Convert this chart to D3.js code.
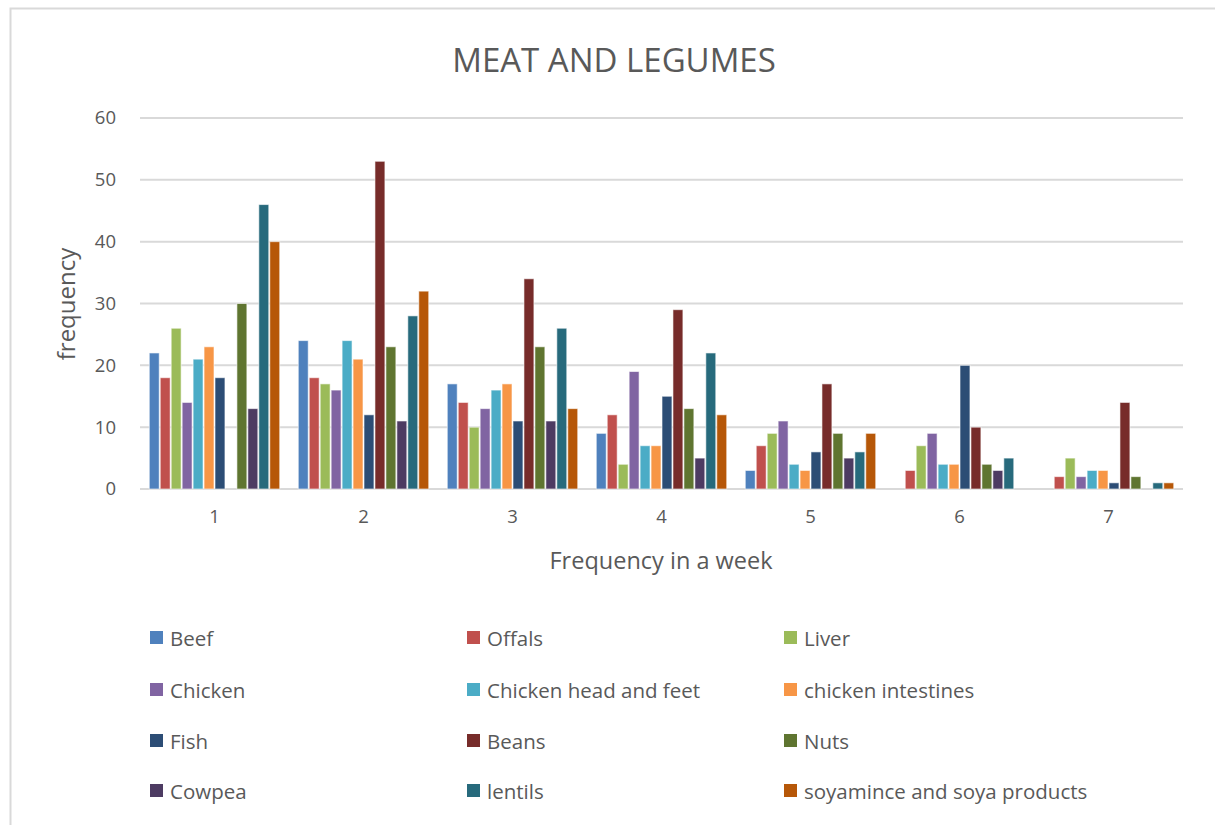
<!DOCTYPE html>
<html>
<head>
<meta charset="utf-8">
<script src="https://cdn.jsdelivr.net/npm/d3@7"></script>
<style>
  html, body { margin: 0; padding: 0; background: #fff; }
  svg { display: block; font-family: "Open Sans", "Liberation Sans", sans-serif; }
</style>
</head>
<body>
<svg id="chart" width="1215" height="825"></svg>
<script>
const categories = ["1", "2", "3", "4", "5", "6", "7"];
const seriesNames = ["Beef", "Offals", "Liver", "Chicken", "Chicken head and feet", "chicken intestines",
  "Fish", "Beans", "Nuts", "Cowpea", "lentils", "soyamince and soya products"];
const seriesColors = ["#4F81BD", "#C0504D", "#9BBB59", "#8064A2", "#4BACC6", "#F79646",
  "#2C4D75", "#772C2A", "#5F7530", "#4D3B62", "#276A7C", "#B65708"];
const beef     = [22, 24, 17, 9, 3, 0, 0];
const offals   = [18, 18, 14, 12, 7, 3, 2];
const liver    = [26, 17, 10, 4, 9, 7, 5];
const chicken  = [14, 16, 13, 19, 11, 9, 2];
const headFeet = [21, 24, 16, 7, 4, 4, 3];
const intest   = [23, 21, 17, 7, 3, 4, 3];
const fish     = [18, 12, 11, 15, 6, 20, 1];
const beans    = [0, 53, 34, 29, 17, 10, 14];
const nuts     = [30, 23, 23, 13, 9, 4, 2];
const cowpea   = [13, 11, 11, 5, 5, 3, 0];
const lentils  = [46, 28, 26, 22, 6, 5, 1];
const soya     = [40, 32, 13, 12, 9, 0, 1];
const yTicks = [0, 10, 20, 30, 40, 50, 60];

const seriesValues = [beef, offals, liver, chicken, headFeet, intest, fish, beans, nuts, cowpea, lentils, soya];

const svg = d3.select("#chart");
const textColor = "#595959";

// outer border
svg.append("rect").attr("x", 10.5).attr("y", 8.5).attr("width", 1215).attr("height", 830)
  .attr("fill", "none").attr("stroke", "#d9d9d9").attr("stroke-width", 2);

const plot = { left: 140, right: 1183, top: 118, bottom: 489 };

const x0 = d3.scaleBand().domain(categories).range([plot.left, plot.right]).paddingInner(0).paddingOuter(0);
const x1 = d3.scaleBand().domain(seriesNames).range([0, x0.bandwidth()]).paddingInner(0).paddingOuter(0.8);
const y = d3.scaleLinear().domain([0, 60]).range([plot.bottom, plot.top]);

// gridlines
svg.append("g").selectAll("line").data(yTicks).join("line")
  .attr("x1", plot.left).attr("x2", plot.right)
  .attr("y1", d => y(d)).attr("y2", d => y(d))
  .attr("stroke", "#d9d9d9").attr("stroke-width", 2);

// y labels
svg.append("g").selectAll("text").data(yTicks).join("text")
  .attr("x", 116).attr("y", d => y(d)).attr("dy", "0.35em")
  .attr("text-anchor", "end").attr("font-size", 18.5).attr("fill", textColor)
  .text(d => d);

// bars
const groups = svg.append("g").selectAll("g").data(categories).join("g")
  .attr("transform", d => `translate(${x0(d)},0)`);
groups.selectAll("rect").data((c, ci) => seriesNames.map((s, si) => ({ s, si, v: seriesValues[si][ci] })))
  .join("rect")
  .filter(d => d.v > 0)
  .attr("x", d => x1(d.s) + 0.5)
  .attr("width", x1.bandwidth() - 1)
  .attr("y", d => y(d.v))
  .attr("height", d => y(0) - y(d.v))
  .attr("fill", d => seriesColors[d.si])
  .attr("stroke", "#ffffff").attr("stroke-opacity", 0.6).attr("stroke-width", 1);

// x labels
svg.append("g").selectAll("text").data(categories).join("text")
  .attr("x", d => x0(d) + x0.bandwidth() / 2).attr("y", 523)
  .attr("text-anchor", "middle").attr("font-size", 18.5).attr("fill", textColor)
  .text(d => d);

// title
svg.append("text").attr("x", 614).attr("y", 72).attr("text-anchor", "middle")
  .attr("font-size", 33).attr("fill", textColor).text("MEAT AND LEGUMES");

// axis titles
svg.append("text").attr("x", 661).attr("y", 569).attr("text-anchor", "middle")
  .attr("font-size", 23.5).attr("fill", textColor).text("Frequency in a week");
svg.append("text").attr("transform", "translate(75,304) rotate(-90)").attr("text-anchor", "middle")
  .attr("font-size", 24).attr("fill", textColor).text("frequency");

// legend
const legCols = [150, 467, 784];
const legRows = [638, 690, 741, 791];
const leg = svg.append("g").selectAll("g").data(seriesNames).join("g")
  .attr("transform", (d, i) => `translate(${legCols[i % 3]},${legRows[Math.floor(i / 3)]})`);
leg.append("rect").attr("x", 0).attr("y", -7).attr("width", 13).attr("height", 13)
  .attr("fill", (d, i) => seriesColors[i]);
leg.append("text").attr("x", 20).attr("y", 1).attr("dy", "0.35em")
  .attr("font-size", 20.5).attr("fill", textColor).text(d => d);
</script>
</body>
</html>
